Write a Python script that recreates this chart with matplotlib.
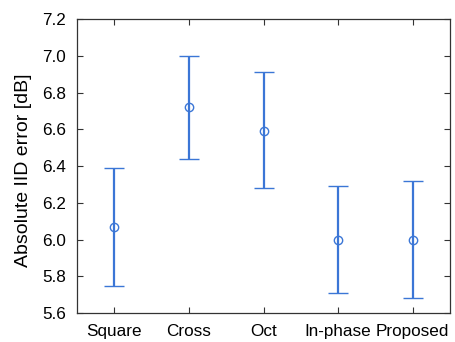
import matplotlib
matplotlib.use("Agg")
import matplotlib.pyplot as plt
import numpy as np

categories = ["Square", "Cross", "Oct", "In-phase", "Proposed"]
means = [6.068, 6.72, 6.59, 5.995, 5.995]
upper = [6.39, 7.00, 6.91, 6.29, 6.32]
lower = [5.747, 6.44, 6.28, 5.707, 5.68]

plt.rcParams['font.family'] = ['Liberation Sans', 'DejaVu Sans']
fig = plt.figure(figsize=(4.56, 3.42), dpi=100)
ax = fig.add_axes([77/456, 1-313/342, (450-77)/456, (313-19)/342])

x = np.arange(1, len(categories)+1)
m = np.array(means)
yerr = [m - np.array(lower), np.array(upper) - m]
color = '#3b76d6'
ax.errorbar(x, m, yerr=yerr, fmt='o', color=color, ecolor=color, elinewidth=1.6,
            capsize=7.4, capthick=1.6, markersize=6, markerfacecolor='none',
            markeredgecolor=color, markeredgewidth=1.0)

ax.set_xlim(0.5, 5.5)
ax.set_ylim(5.6, 7.2)
ax.set_yticks(np.arange(5.6, 7.21, 0.2))
ax.set_yticklabels([f"{v:.1f}" for v in np.arange(5.6, 7.21, 0.2)])
ax.set_xticks(x)
ax.set_xticklabels(categories)
ax.tick_params(direction='in', top=True, right=True, labelsize=12.3, length=4,
               width=0.8, color='#333333')
ax.tick_params(axis='x', pad=8)
ax.tick_params(axis='y', pad=8)
for s in ax.spines.values():
    s.set_color('#333333')
    s.set_linewidth(0.9)
ax.set_ylabel("Absolute IID error [dB]", fontsize=14)
ax.yaxis.set_label_coords(-0.12, 0.485)
fig.savefig("out.png", dpi=100)
